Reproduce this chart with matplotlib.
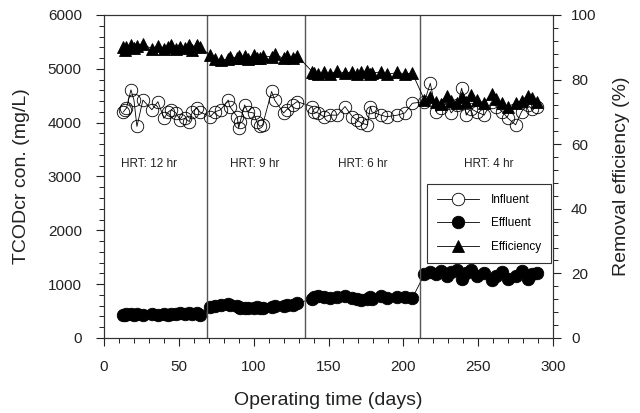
import numpy as np
import matplotlib
matplotlib.use('Agg')
import matplotlib.pyplot as plt
from matplotlib.lines import Line2D

plt.rcParams['font.family'] = ['Liberation Sans', 'DejaVu Sans']

# operating days, grouped by HRT phase
days = [13, 14, 15, 18, 20, 22, 26, 32, 36, 40, 43, 45, 48, 51, 54, 57, 59, 62, 64,
        71, 74, 78, 83, 84, 89, 90, 91, 94, 96, 100, 102, 104, 106, 112, 114, 120, 122, 126, 129,
        139, 140, 143, 147, 151, 156, 161, 166, 169, 172, 176, 178, 179, 185, 189, 196, 201, 206,
        214, 218, 222, 225, 229, 232, 236, 239, 242, 245, 249, 254, 259, 262, 266, 270, 275, 279, 283, 286, 289]

influent = [4200, 4240, 4270, 4610, 4420, 3930, 4420, 4240, 4390, 4080, 4200, 4240, 4180, 4050, 4080, 4020, 4200, 4270, 4200,
            4110, 4200, 4240, 4420, 4300, 4110, 3900, 4020, 4330, 4200, 4180, 4020, 3930, 3960, 4580, 4420, 4180, 4240, 4330, 4390,
            4300, 4200, 4180, 4110, 4140, 4140, 4300, 4110, 4050, 3990, 3960, 4300, 4200, 4140, 4110, 4140, 4180, 4360,
            4390, 4730, 4205, 4280, 4360, 4180, 4330, 4640, 4140, 4260, 4200, 4140, 4390, 4300, 4205, 4080, 3960, 4205, 4330, 4250, 4300]

effluent = [430, 420, 440, 450, 430, 440, 420, 450, 430, 440, 420, 450, 440, 460, 450, 470, 440, 460, 430,
            580, 600, 620, 640, 620, 600, 580, 560, 550, 560, 550, 570, 560, 560, 580, 600, 590, 610, 620, 650,
            720, 760, 780, 770, 750, 760, 780, 740, 720, 700, 730, 760, 720, 780, 750, 770, 760, 740,
            1180, 1230, 1180, 1250, 1160, 1220, 1260, 1100, 1200, 1270, 1150, 1200, 1080, 1160, 1220, 1100, 1150, 1250, 1100, 1180, 1200]

efficiency = [90.0, 89.3, 90.2, 90.8, 89.8, 90.5, 91.0, 89.5, 90.4, 89.6, 90.2, 90.6, 89.4, 90.0, 89.8, 90.8, 89.2, 90.6, 90.0,
              87.6, 86.5, 86.0, 86.4, 87.0, 86.8, 87.4, 86.6, 87.2, 86.5, 87.6, 86.8, 86.6, 87.4, 87.0, 87.8, 86.6, 87.2, 86.8, 87.4,
              82.5, 82.0, 81.6, 82.2, 81.8, 82.6, 82.0, 82.4, 81.8, 82.2, 82.6, 81.8, 82.0, 82.4, 81.6, 82.2, 81.8, 82.0,
              73.8, 74.5, 73.2, 72.4, 75.0, 73.5, 72.8, 74.6, 73.2, 75.2, 73.8, 72.6, 75.4, 74.0, 72.6, 71.6, 72.8, 73.5, 75.0, 74.2, 73.0]

phase_bounds = [69, 134, 211]
phase_labels = ['HRT: 12 hr', 'HRT: 9 hr', 'HRT: 6 hr', 'HRT: 4 hr']
label_x = [30, 101, 173, 257]

fig = plt.figure(figsize=(6.4, 4.13), dpi=100)
ax = fig.add_axes([0.1625, 0.1816, 0.7016, 0.7821])
ax2 = ax.twinx()

ms = 9
ax.plot(days, influent, '-o', color='black', lw=0.6, ms=ms, mfc='none', mew=0.6)
ax.plot(days, effluent, '-o', color='black', lw=0.6, ms=ms, mfc='black', mew=0.6)
ax2.plot(days, efficiency, '-^', color='black', lw=0.6, ms=ms, mfc='black', mew=0.6)

for b in phase_bounds:
    ax.axvline(b, color='#555555', lw=1.0)
for x, t in zip(label_x, phase_labels):
    ax.text(x, 3240, t, ha='center', va='center', fontsize=8.5, color='#222222')

ax.set_xlim(0, 300)
ax.set_ylim(0, 6000)
ax2.set_ylim(0, 100)
ax.set_xticks(np.arange(0, 301, 50))
ax.set_xticks(np.arange(0, 301, 10), minor=True)
ax.set_yticks(np.arange(0, 6001, 1000))
ax.set_yticks(np.arange(0, 6001, 200), minor=True)
ax2.set_yticks(np.arange(0, 101, 20))
ax2.set_yticks(np.arange(0, 101, 4), minor=True)

for a in (ax, ax2):
    a.tick_params(which='major', direction='out', length=6, width=0.8, labelsize=11, colors='#222222')
    a.tick_params(which='minor', direction='out', length=3.5, width=0.7, colors='#222222')
    for s in a.spines.values():
        s.set_color('#333333')
        s.set_linewidth(0.8)
ax.tick_params(axis='x', which='major', pad=10)
ax.tick_params(axis='y', which='major', pad=10)
ax2.tick_params(axis='y', which='major', pad=7)

ax.set_xlabel('Operating time (days)', fontsize=14, color='#222222', labelpad=13)
ax.set_ylabel('TCODcr con. (mg/L)', fontsize=14, color='#222222', labelpad=13)
ax2.set_ylabel('Removal efficiency (%)', fontsize=14, color='#222222', labelpad=12)

handles = [
    Line2D([], [], color='black', lw=0.6, marker='o', ms=ms, mfc='white', mew=0.6),
    Line2D([], [], color='black', lw=0.6, marker='o', ms=ms, mfc='black', mew=0.6),
    Line2D([], [], color='black', lw=0.6, marker='^', ms=ms, mfc='black', mew=0.6),
]
leg = ax2.legend(handles, ['Influent', 'Effluent', 'Efficiency'], loc='upper left',
                 bbox_to_anchor=(0.72, 0.476), fontsize=8.5, fancybox=False,
                 edgecolor='#333333', framealpha=1, handlelength=3.6, borderpad=0.8,
                 labelspacing=1.0, handletextpad=1.0, borderaxespad=0)
leg.get_frame().set_linewidth(0.8)

fig.savefig('out.png', dpi=100)
